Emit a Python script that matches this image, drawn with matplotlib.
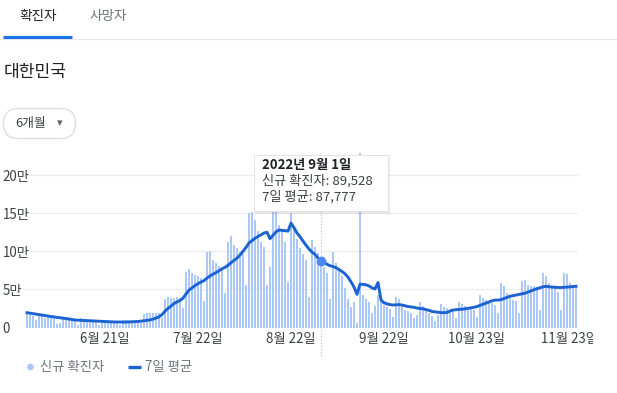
import matplotlib
matplotlib.use("Agg")
import matplotlib.pyplot as plt
from matplotlib.patches import FancyBboxPatch, Rectangle, Circle
import pandas as pd

plt.rcParams['font.family'] = ['Noto Sans CJK KR', 'DejaVu Sans']

# daily new cases (thousands), 2022-05-26 .. 2022-11-25
daily_cases = [
    18.5, 16.5, 15.0,
    10.2, 17.3, 16.4, 13.0, 15.8, 12.5, 12.0,
    4.9, 6.1, 13.3, 13.4, 12.2, 10.5, 8.7,
    3.8, 12.1, 9.4, 8.4, 7.9, 7.2, 6.9,
    3.5, 9.3, 7.9, 7.5, 7.0, 6.8, 6.2,
    3.4, 9.9, 9.6, 8.5, 8.3, 8.9, 7.1,
    6.2, 18.1, 19.4, 18.5, 19.3, 19.0, 18.7,
    12.7, 37.4, 40.3, 39.2, 38.9, 40.0, 39.0,
    25.0, 73.0, 76.4, 71.2, 69.0, 67.5, 65.4,
    34.5, 99.3, 100.3, 88.4, 84.0, 81.0, 78.0,
    44.7, 111.8, 119.9, 107.9, 104.0, 99.0, 96.0,
    55.3, 150.0, 151.8, 141.0, 127.0, 112.0, 106.0,
    56.0, 80.0, 178.0, 158.0, 134.0, 128.0, 112.0,
    60.0, 150.3, 132.0, 116.0, 104.0, 96.0, 88.5,
    40.0, 115.3, 106.0, 98.0, 89.528, 80.0, 71.0,
    37.0, 99.0, 85.0, 78.0, 67.0, 52.0, 38.0,
    27.0, 33.0, 6.0, 229.0, 43.0, 38.0, 33.0,
    19.0, 28.0, 42.0, 34.0, 29.5, 27.0, 24.0,
    14.0, 40.0, 38.0, 29.5, 23.0, 21.0, 19.0,
    12.5, 16.0, 34.0, 28.0, 23.0, 19.0, 15.0,
    9.0, 16.0, 31.0, 27.0, 25.0, 24.0, 21.0,
    12.5, 34.0, 31.0, 28.0, 26.0, 25.0, 23.0,
    14.0, 42.6, 39.0, 36.0, 34.0, 32.0, 29.0,
    19.0, 58.0, 54.0, 45.0, 42.0, 36.0, 35.0,
    19.0, 61.0, 62.0, 56.0, 54.0, 54.0, 53.0,
    23.0, 72.0, 67.0, 58.0, 54.0, 52.0, 46.0,
    23.0, 72.0, 70.0, 58.0, 55.0, 54.0,
]

# 7-day average (thousands)
avg_7day = [
    19.4, 18.8, 18.2,
    17.6, 17.0, 16.4, 15.7, 15.0, 14.4, 13.8,
    13.3, 12.8, 12.3, 11.8, 11.2, 10.5, 9.8,
    9.6, 9.4, 9.2, 9.0, 8.8, 8.6, 8.5,
    8.3, 8.1, 7.9, 7.7, 7.5, 7.3, 7.2,
    7.1, 7.1, 7.2, 7.3, 7.5, 7.7, 7.9,
    8.3, 8.8, 9.3, 9.9, 11.0, 12.4, 14.0,
    17.0, 21.5, 25.0, 28.0, 31.5, 33.5, 35.5,
    38.5, 44.0, 49.0, 52.0, 55.0, 57.5, 59.5,
    61.5, 65.0, 67.5, 70.0, 72.0, 74.5, 77.0,
    79.0, 81.5, 85.0, 88.0, 91.0, 95.0, 100.0,
    105.0, 111.0, 114.0, 117.0, 119.5, 121.5, 124.0,
    125.0, 116.5, 121.0, 125.5, 128.0, 127.5, 127.0,
    126.5, 137.0, 131.0, 124.0, 119.0, 113.5, 108.0,
    103.0, 99.0, 96.0, 91.0, 87.777, 85.5, 83.0,
    81.0, 80.0, 78.5, 76.0, 73.5, 70.5, 66.0,
    60.0, 53.0, 43.5, 57.0, 56.5, 56.0, 54.5,
    52.0, 50.5, 59.0, 36.0, 32.5, 31.0, 30.0,
    29.5, 29.8, 30.0, 29.5, 28.5, 27.5, 27.0,
    26.5, 25.5, 25.0, 24.5, 23.5, 22.5, 21.0,
    20.5, 20.0, 19.5, 19.4, 19.8, 21.5, 23.0,
    23.3, 23.6, 24.0, 24.5, 25.2, 25.8, 26.5,
    27.5, 29.0, 30.5, 32.0, 33.5, 35.0, 36.0,
    36.0, 36.5, 38.0, 39.5, 41.0, 41.8, 42.5,
    43.5, 44.2, 45.0, 46.5, 48.0, 49.5, 51.0,
    52.0, 53.5, 54.0, 53.5, 53.0, 52.7, 52.5,
    52.5, 52.7, 53.0, 53.3, 53.8, 54.0,
]

dates = pd.date_range("2022-05-26", periods=len(daily_cases), freq="D")

tick_dates = ["2022-06-21", "2022-07-22", "2022-08-22", "2022-09-22", "2022-10-23", "2022-11-23"]
tick_labels = ["6월 21일", "7월 22일", "8월 22일", "9월 22일", "10월 23일", "11월 23일"]
y_ticks = [0, 50, 100, 150, 200]
y_labels = ["0", "5만", "10만", "15만", "20만"]

hover_date = "2022-09-01"
hover_lines = ["2022년 9월 1일", "신규 확진자: 89,528", "7일 평균: 87,777"]

BAR = "#abc8f7"
LINE = "#1b63d3"
DARK = "#202124"
GREY = "#70757a"

W, H = 617, 393
fig = plt.figure(figsize=(W / 100, H / 100), dpi=100)


def pixel_axes(z):
    # full-figure axes in pixel units (y down) for the page furniture
    a = fig.add_axes([0, 0, 1, 1], zorder=z)
    a.set_xlim(0, W)
    a.set_ylim(H, 0)
    a.axis("off")
    a.patch.set_visible(False)
    return a


bg = pixel_axes(0)

# header: tabs, title, range button
bg.text(38, 16, "확진자", fontsize=9.8, color=DARK, ha="center", va="center")
bg.text(108, 16, "사망자", fontsize=9.8, color=GREY, ha="center", va="center")
bg.plot([0, W], [38.5, 38.5], color="#e6e6e6", lw=0.8)
bg.plot([3, 72], [37, 37], color="#1a73e8", lw=2.2, solid_capstyle="butt")
bg.text(4, 72, "대한민국", fontsize=12.3, color=DARK, ha="left", va="center")

bg.add_patch(FancyBboxPatch((3.5, 108.5), 72, 30, boxstyle="round,pad=0,rounding_size=15",
                            facecolor="white", edgecolor="#dadce0", lw=0.9))
bg.text(15, 124, "6개월", fontsize=9.2, color="#3c4043", ha="left", va="center")
bg.text(60, 123.5, "▾", fontsize=8, color="#5f6368", ha="center", va="center",
        family="DejaVu Sans")

# hover guide line
bg.plot([321, 321], [211, 356], color="#c4c7cc", lw=0.9, ls=(0, (1, 1.5)))

# legend
bg.add_patch(Circle((30.5, 367), 3.3, facecolor=BAR, edgecolor="none"))
bg.text(40, 367, "신규 확진자", fontsize=9.6, color=GREY, ha="left", va="center")
bg.plot([128, 141], [367, 367], color=LINE, lw=2.4, solid_capstyle="butt")
bg.text(145, 367, "7일 평균", fontsize=9.6, color=GREY, ha="left", va="center")

# chart
ax = fig.add_axes([24 / W, 1 - 327.5 / H, (578 - 24) / W, (327.5 - 150) / H], zorder=1)
ax.bar(dates, daily_cases, width=0.62, color=BAR, zorder=2)
ax.plot(dates, avg_7day, color=LINE, lw=2.1, zorder=3, solid_joinstyle="round")

hd = pd.Timestamp(hover_date)
hv = avg_7day[list(dates).index(hd)]
ax.plot([hd], [hv], "o", ms=6, color="#4a8af0", zorder=4)

for v in y_ticks[1:]:
    ax.axhline(v, color="#ececec", lw=0.8, zorder=1)

ax.set_xlim(dates[0] - pd.Timedelta(days=1), dates[-1] + pd.Timedelta(hours=16))
ax.set_ylim(0, 232.9)
ax.set_xticks(pd.to_datetime(tick_dates))
ax.set_xticklabels(tick_labels, fontsize=9.6, color="#3c4043")
ax.set_yticks(y_ticks)
ax.set_yticklabels(y_labels, fontsize=9.6, color="#3c4043")
for lbl in ax.get_yticklabels():
    lbl.set_ha("left")
ax.tick_params(axis="y", length=0, pad=15.3)
ax.tick_params(axis="x", length=0, pad=3)
for s in ax.spines.values():
    s.set_visible(False)
ax.patch.set_visible(False)

# tooltip and the right-edge cut of the last tick label
top = pixel_axes(2)
top.add_patch(Rectangle((255, 157), 135, 57, facecolor="#000000", alpha=0.07, edgecolor="none"))
top.add_patch(Rectangle((254, 155), 134, 56, facecolor="white", edgecolor="#e3e3e3", lw=0.7))
top.text(262, 165, hover_lines[0], fontsize=9.5, color=DARK, weight="bold",
         ha="left", va="center")
top.text(262, 181, hover_lines[1], fontsize=9.5, color="#3c4043", ha="left", va="center")
top.text(262, 196.5, hover_lines[2], fontsize=9.5, color="#3c4043", ha="left", va="center")
top.add_patch(Rectangle((593, 330), W - 593, 20, facecolor="white", edgecolor="none"))

fig.savefig("out.png", dpi=100)
